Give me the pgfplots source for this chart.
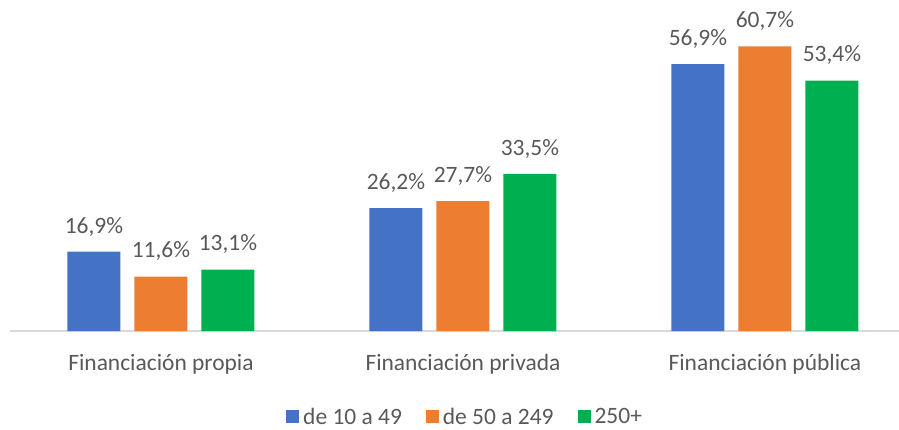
\documentclass[border=0pt]{standalone}
\usepackage{fontspec}
\setmainfont{Carlito}
\usepackage{pgfplots}
\pgfplotsset{compat=1.18}
\definecolor{xlblue}{HTML}{4472C4}
\definecolor{xlorange}{HTML}{ED7D31}
\definecolor{xlgreen}{HTML}{00B050}
\definecolor{txtgray}{HTML}{595959}
\definecolor{axgray}{HTML}{D9D9D9}
\newcommand{\lblfont}{\fontsize{17.6}{21}\selectfont}

\begin{document}
\begin{tikzpicture}
  \begin{axis}[
    at={(7.5pt,73.5pt)}, anchor=south west,
    scale only axis,
    width=666.75pt, height=248pt,
    ybar=10.5pt, bar width=39.75pt,
    xmin=-0.5, xmax=2.444,
    ymin=0, ymax=70.5,
    axis x line*=bottom, axis y line=none,
    x axis line style={axgray, line width=1pt},
    xtick={0,1,2},
    xticklabels={Financiación propia, Financiación privada, Financiación pública},
    major tick length=0pt,
    xticklabel style={font=\lblfont, text=txtgray, anchor=base, yshift=-29.25pt},
    nodes near coords={\pgfmathprintnumber[fixed, fixed zerofill, precision=1, use comma, assume math mode=true]{\pgfplotspointmeta}\%},
    nodes near coords style={font=\lblfont, text=txtgray, anchor=base, yshift=14pt},
    legend columns=3,
    legend style={
      draw=none, font=\lblfont, text=txtgray,
      at={(0.513,-0.26)}, anchor=center,
      /tikz/every even column/.append style={column sep=15pt},
      nodes={inner xsep=3pt},
    },
    legend image code/.code={\draw[#1, draw=none] (0pt,-4.875pt) rectangle (9.75pt,4.875pt);},
  ]
    \addplot[fill=xlblue, draw=none] coordinates {(0,16.9) (1,26.2) (2,56.9)};
    \addplot[fill=xlorange, draw=none] coordinates {(0,11.6) (1,27.7) (2,60.7)};
    \addplot[fill=xlgreen, draw=none] coordinates {(0,13.1) (1,33.5) (2,53.4)};
    \legend{de 10 a 49, de 50 a 249, 250+}
  \end{axis}
  \pgfresetboundingbox
  \path[use as bounding box] (0pt,0pt) rectangle (674.25pt,321.75pt);
\end{tikzpicture}
\end{document}
